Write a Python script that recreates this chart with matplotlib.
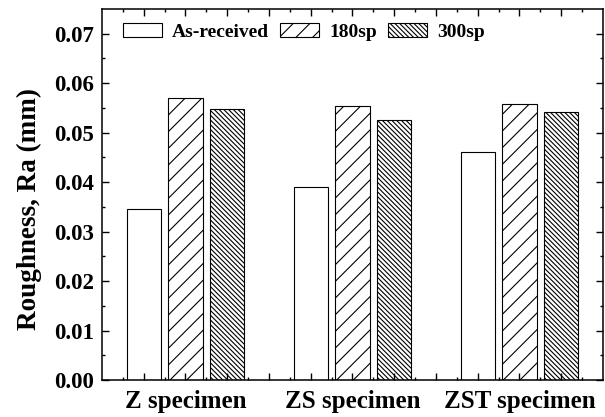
import matplotlib
matplotlib.use("Agg")
import matplotlib.pyplot as plt
import numpy as np

plt.rcParams['font.family'] = ['Liberation Serif', 'DejaVu Serif']
plt.rcParams['font.weight'] = 'bold'
plt.rcParams['hatch.linewidth'] = 0.8

# roughness data (mm)
specimens = ['Z specimen', 'ZS specimen', 'ZST specimen']
series = ['As-received', '180sp', '300sp']
as_received = [0.0345, 0.0390, 0.0461]
sp180 = [0.0570, 0.0554, 0.0557]
sp300 = [0.0548, 0.0525, 0.0542]

hatches = ['', '//', '\\' * 7]

fig = plt.figure(figsize=(6.05, 4.17), dpi=100)
ax = fig.add_axes([0.1686, 0.0887, 0.828, 0.8897])

group_pos = np.array([1, 5, 9])
for k, (vals, name) in enumerate(zip([as_received, sp180, sp300], series)):
    ax.bar(group_pos + k, vals, width=0.82, color='white', edgecolor='black',
           linewidth=0.8, hatch=hatches[k], label=name)

ax.set_xlim(0, 12)
ax.set_ylim(0, 0.075)

# ticks at every bar position, labels only under the middle bar of each group
xt = np.arange(1, 12)
xl = [''] * len(xt)
for g, name in zip(group_pos + 1, specimens):
    xl[g - 1] = name
ax.set_xticks(xt, xl)
ax.set_xticks(np.arange(0.5, 12, 1), minor=True)
ax.set_yticks(np.arange(0, 0.071, 0.01))
ax.set_yticks(np.arange(0.005, 0.075, 0.01), minor=True)
ax.yaxis.set_major_formatter(matplotlib.ticker.FormatStrFormatter('%.2f'))

ax.tick_params(axis='both', which='major', direction='in', length=5, width=1,
               top=True, right=True)
ax.tick_params(axis='both', which='minor', direction='in', length=2.5, width=1,
               top=True, right=True)
ax.tick_params(axis='y', which='major', labelsize=16.5, pad=6)
ax.tick_params(axis='x', which='major', labelsize=18, pad=7, length=5)
for lab in ax.get_xticklabels() + ax.get_yticklabels():
    lab.set_fontweight('bold')
for s in ax.spines.values():
    s.set_linewidth(1.1)

ax.set_ylabel('Roughness, Ra (mm)', fontsize=19.5, fontweight='bold')
ax.yaxis.set_label_coords(-0.12, 0.46)

ax.legend(loc='upper left', bbox_to_anchor=(0.042, 0.962), ncol=3, frameon=False,
          handlelength=2.0, handleheight=0.7, handletextpad=0.5,
          columnspacing=0.6, borderpad=0, borderaxespad=0,
          prop={'weight': 'bold', 'size': 14})

fig.savefig('out.png', dpi=100)
